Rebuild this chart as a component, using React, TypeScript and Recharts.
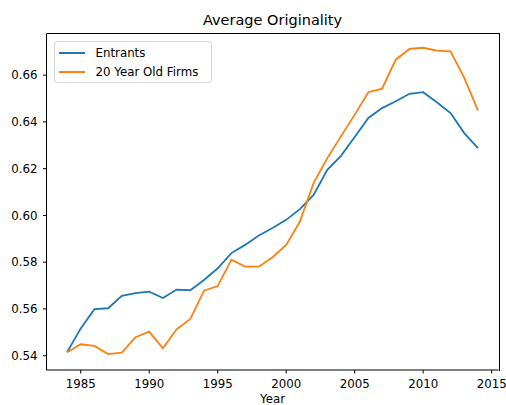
import { LineChart, Line, XAxis, YAxis } from 'recharts'

const years = [
  1984, 1985, 1986, 1987, 1988, 1989, 1990, 1991, 1992, 1993, 1994,
  1995, 1996, 1997, 1998, 1999, 2000, 2001, 2002, 2003, 2004, 2005,
  2006, 2007, 2008, 2009, 2010, 2011, 2012, 2013, 2014,
]
const entrants = [
  0.5415, 0.5517, 0.5599, 0.5603, 0.5656, 0.5668, 0.5674, 0.5647, 0.5683, 0.568, 0.5724,
  0.5774, 0.5839, 0.5874, 0.5914, 0.5946, 0.5981, 0.6027, 0.6088, 0.6195, 0.6255, 0.6335,
  0.6417, 0.6459, 0.6488, 0.652, 0.6527, 0.6484, 0.6438, 0.6352, 0.6288,
]
const oldFirms = [
  0.5415, 0.5449, 0.5442, 0.5407, 0.5413, 0.5479, 0.5503, 0.5432, 0.5513, 0.5557, 0.5678,
  0.5698, 0.5811, 0.5781, 0.5781, 0.5821, 0.5874, 0.5974, 0.6138, 0.6245, 0.6338, 0.6431,
  0.6527, 0.6542, 0.6666, 0.6712, 0.6717, 0.6705, 0.6702, 0.6588, 0.6449,
]
const xTicks = [1985, 1990, 1995, 2000, 2005, 2010, 2015]
const yTicks = [0.54, 0.56, 0.58, 0.6, 0.62, 0.64, 0.66]

const data = years.map((year, i) => ({ year, entrants: entrants[i], oldFirms: oldFirms[i] }))

const FONT = '"DejaVu Sans", sans-serif'
const BLUE = '#1f77b4'
const ORANGE = '#ff7f0e'

function LegendBox() {
  const rows = [
    { name: 'Entrants', color: BLUE },
    { name: '20 Year Old Firms', color: ORANGE },
  ]
  return (
    <div
      style={{
        position: 'absolute', left: 53.5, top: 41,
        width: 158, height: 42, boxSizing: 'border-box', border: '1px solid #d6d6d6',
        borderRadius: 3, background: 'rgba(255,255,255,0.8)', padding: '1px 0 0 4px',
        fontFamily: FONT, fontSize: 11.8, color: '#000',
      }}
    >
      {rows.map((r) => (
        <div key={r.name} style={{ display: 'flex', alignItems: 'center', height: 19 }}>
          <span style={{ display: 'inline-block', width: 26, height: 2, background: r.color, marginRight: 11 }} />
          <span>{r.name}</span>
        </div>
      ))}
    </div>
  )
}

export default function App() {
  const tick = { fontSize: 11.8, fill: '#000', fontFamily: FONT }
  return (
    <div style={{ position: 'absolute', left: 0, top: 0, width: 506, height: 405, background: '#fff' }}>
      <div
        style={{
          position: 'absolute', left: 46.5, width: 452, top: 11, textAlign: 'center',
          fontFamily: FONT, fontSize: 14.5, color: '#000', lineHeight: '18px',
        }}
      >
        Average Originality
      </div>
      <LineChart
        width={506}
        height={405}
        data={data}
        margin={{ top: 33.5, right: 7.5, left: 0, bottom: 0 }}
        style={{ fontFamily: FONT }}
      >
        <XAxis
          dataKey="year"
          type="number"
          domain={[1982.5, 2015.5]}
          ticks={xTicks}
          height={35}
          tick={tick}
          tickSize={3.5}
          tickMargin={6.5}
          stroke="#000"
          axisLine={{ stroke: '#000', strokeWidth: 1 }}
          label={{ value: 'Year', position: 'insideBottom', offset: 2, fill: '#000', fontSize: 11.8 }}
        />
        <YAxis
          type="number"
          domain={[0.5339, 0.6778]}
          ticks={yTicks}
          width={46.5}
          tick={tick}
          tickSize={3.5}
          tickMargin={5.5}
          tickFormatter={(v) => v.toFixed(2)}
          stroke="#000"
          axisLine={{ stroke: '#000', strokeWidth: 1 }}
        />
        <Line dataKey="entrants" name="Entrants" stroke={BLUE} strokeWidth={1.8} dot={false} isAnimationActive={false} />
        <Line dataKey="oldFirms" name="20 Year Old Firms" stroke={ORANGE} strokeWidth={1.8} dot={false} isAnimationActive={false} />
      </LineChart>
      <div
        style={{
          position: 'absolute', left: 46.5, top: 33, width: 452, height: 337,
          borderTop: '1px solid #000', borderRight: '1px solid #000', pointerEvents: 'none',
        }}
      />
      <LegendBox />
    </div>
  )
}
